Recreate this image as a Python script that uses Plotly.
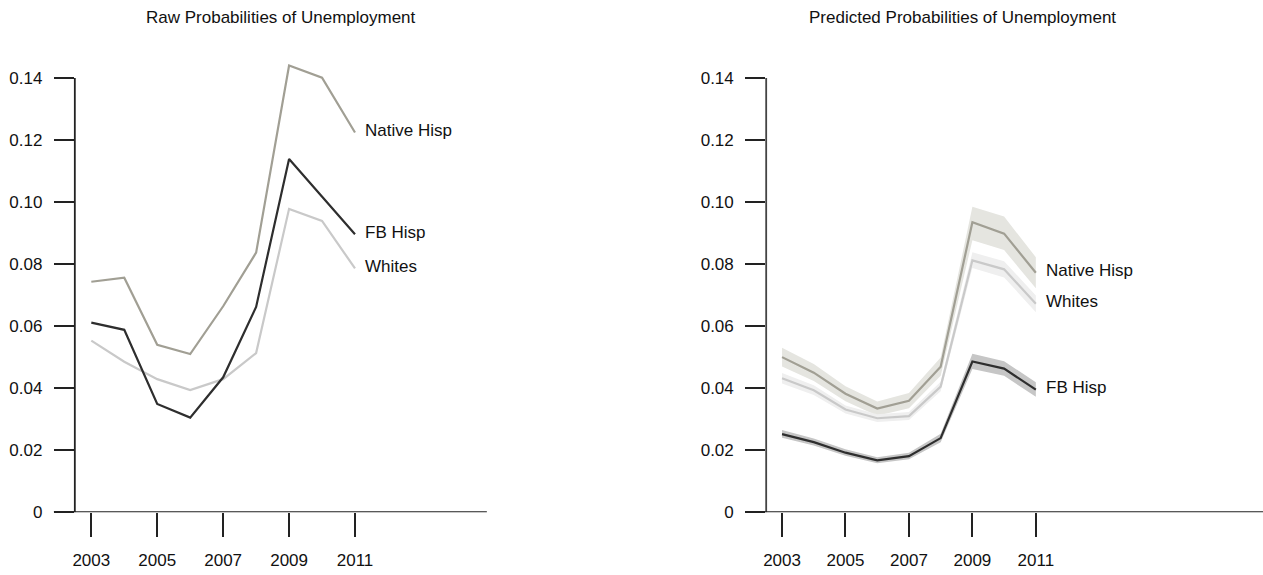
import plotly.graph_objects as go

W, H = 1263, 575

years = [2003, 2004, 2005, 2006, 2007, 2008, 2009, 2010, 2011]

# Raw probabilities
raw_native = [0.0743, 0.0756, 0.0540, 0.0510, 0.0664, 0.0837, 0.1440, 0.1401, 0.1224]
raw_fb = [0.0611, 0.0588, 0.0349, 0.0305, 0.0435, 0.0662, 0.1139, 0.1018, 0.0896]
raw_whites = [0.0553, 0.0485, 0.0429, 0.0394, 0.0429, 0.0513, 0.0978, 0.0939, 0.0786]

# Predicted probabilities with interval bounds
pred_native = [0.0500, 0.0450, 0.0382, 0.0334, 0.0359, 0.0469, 0.0935, 0.0898, 0.0772]
pred_native_lo = [0.0470, 0.0423, 0.0358, 0.0311, 0.0335, 0.0440, 0.0877, 0.0845, 0.0722]
pred_native_hi = [0.0530, 0.0478, 0.0406, 0.0357, 0.0384, 0.0499, 0.0985, 0.0953, 0.0822]

pred_whites = [0.0432, 0.0393, 0.0331, 0.0303, 0.0310, 0.0405, 0.0812, 0.0783, 0.0672]
pred_whites_lo = [0.0415, 0.0378, 0.0318, 0.0291, 0.0297, 0.0390, 0.0787, 0.0757, 0.0645]
pred_whites_hi = [0.0449, 0.0409, 0.0344, 0.0316, 0.0323, 0.0421, 0.0838, 0.0809, 0.0699]

pred_fb = [0.0252, 0.0226, 0.0192, 0.0167, 0.0181, 0.0239, 0.0486, 0.0463, 0.0395]
pred_fb_lo = [0.0240, 0.0215, 0.0182, 0.0158, 0.0171, 0.0226, 0.0462, 0.0440, 0.0372]
pred_fb_hi = [0.0265, 0.0238, 0.0203, 0.0177, 0.0192, 0.0253, 0.0511, 0.0487, 0.0419]

y_ticks = [0, 0.02, 0.04, 0.06, 0.08, 0.10, 0.12, 0.14]
y_ticktext = ["0", "0.02", "0.04", "0.06", "0.08", "0.10", "0.12", "0.14"]
x_ticks = [2003, 2005, 2007, 2009, 2011]

C_NATIVE = "#a19f94"
C_FB = "#2e2e2e"
C_WHITES = "#c9c9c9"
B_NATIVE = "#e5e5e0"
B_WHITES = "#efefef"
B_FB = "#c6c6c6"
AXIS = "#222222"
FONT = "Liberation Sans, Arial, sans-serif"

fig = go.Figure()


def band(lo, hi, color, xa, ya):
    fig.add_trace(go.Scatter(
        x=years + years[::-1], y=hi + lo[::-1], fill="toself",
        fillcolor=color, line=dict(width=0), mode="lines",
        hoverinfo="skip", showlegend=False, xaxis=xa, yaxis=ya))


def line(vals, color, xa, ya, name):
    fig.add_trace(go.Scatter(
        x=years, y=vals, mode="lines", name=name,
        line=dict(color=color, width=2.2), showlegend=False,
        xaxis=xa, yaxis=ya))


# Left panel: raw
line(raw_native, C_NATIVE, "x", "y", "Native Hisp")
line(raw_whites, C_WHITES, "x", "y", "Whites")
line(raw_fb, C_FB, "x", "y", "FB Hisp")

# Right panel: predicted with bands
band(pred_native_lo, pred_native_hi, B_NATIVE, "x2", "y2")
band(pred_whites_lo, pred_whites_hi, B_WHITES, "x2", "y2")
band(pred_fb_lo, pred_fb_hi, B_FB, "x2", "y2")
line(pred_native, C_NATIVE, "x2", "y2", "Native Hisp")
line(pred_whites, C_WHITES, "x2", "y2", "Whites")
line(pred_fb, C_FB, "x2", "y2", "FB Hisp")

y_bottom = 521.3
px_per_unit = 3157.0
y_top = y_bottom - 0.15 * px_per_unit
ydom = [(H - y_bottom) / H, (H - y_top) / H]

left_dom = [72 / W, 485 / W]
right_dom = [765 / W, 1.0]
right_end = 2002.5 + (W - 765) / 31.8

tickfont = dict(family=FONT, size=17, color="#111111")
common_x = dict(tickmode="array", tickvals=x_ticks, ticks="outside", ticklen=24,
                tickwidth=1.6, tickcolor=AXIS, showline=False, showgrid=False,
                zeroline=False, tickfont=tickfont, fixedrange=True,
                ticklabelstandoff=8)
common_y = dict(tickmode="array", tickvals=y_ticks, ticktext=y_ticktext,
                ticks="outside", ticklen=20, tickwidth=1.6, tickcolor=AXIS,
                showline=False, showgrid=False, zeroline=False,
                range=[0, 0.15], domain=ydom, tickfont=tickfont, fixedrange=True,
                ticklabelstandoff=8)

fig.update_layout(
    width=W, height=H,
    margin=dict(l=0, r=0, t=0, b=0),
    paper_bgcolor="white", plot_bgcolor="white",
    font=dict(family=FONT, size=17, color="#111111"),
    xaxis=dict(domain=left_dom, range=[2002.5, 2015], anchor="y", **common_x),
    yaxis=dict(anchor="x", **common_y),
    xaxis2=dict(domain=right_dom, range=[2002.5, right_end], anchor="y2", **common_x),
    yaxis2=dict(anchor="x2", **common_y),
)

# Axis lines
for xa, ya, x_left_px, x_right_px, ycol in [("x", "y", 51, 485, AXIS),
                                            ("x2", "y2", 745, W, "#444444")]:
    fig.add_shape(type="line", xref=f"{xa} domain", yref=ya,
                  x0=0, x1=0, y0=0, y1=0.14,
                  line=dict(color=ycol, width=1.8))
    fig.add_shape(type="line", xref="paper", yref=ya,
                  x0=x_left_px / W, x1=x_right_px / W, y0=0, y1=0,
                  line=dict(color=AXIS, width=1.8))

# End-of-line labels
for xa, ya, labels in [
    ("x", "y", [("Native Hisp", raw_native[-1]), ("FB Hisp", raw_fb[-1]),
                ("Whites", raw_whites[-1])]),
    ("x2", "y2", [("Native Hisp", pred_native[-1]), ("Whites", pred_whites[-1]),
                  ("FB Hisp", pred_fb[-1])]),
]:
    for text, val in labels:
        fig.add_annotation(x=years[-1], y=val, xref=xa, yref=ya, text=text,
                           showarrow=False, xanchor="left", yanchor="middle",
                           xshift=8, yshift=2,
                           font=dict(family=FONT, size=17, color="#111111"))

# Panel titles
for cx, title in [(278.5, "Raw Probabilities of Unemployment"),
                  (961.5, "Predicted Probabilities of Unemployment")]:
    fig.add_annotation(x=cx / W, y=1 - 18 / H, xref="paper", yref="paper",
                       text=title, showarrow=False, xanchor="center",
                       yanchor="middle",
                       font=dict(family=FONT, size=17, color="#111111"))

fig.write_html("out.html")
